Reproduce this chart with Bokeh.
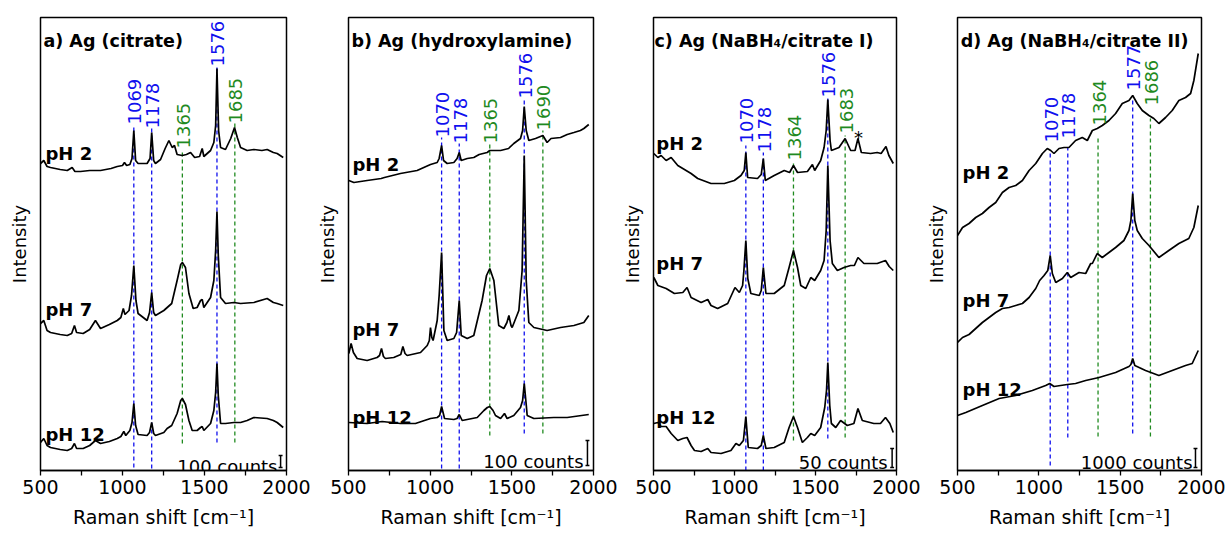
import math
from bokeh.plotting import figure
from bokeh.layouts import row
from bokeh.models import Range1d, FixedTicker
from bokeh.core.properties import value
from bokeh.embed import file_html
from bokeh.resources import INLINE

FONT = "DejaVu Sans"
BLUE = "#1010ee"
GREEN = "#1f8a1f"

# ---------------- data (Raman shift in cm^-1, intensity in plot units, stacked as drawn) --------
# panel a) Ag (citrate)
a_ph2_x = [500,520,540,561,620,663,693,710,744,800,866,930,968,1000,1012,1025,1045,1058,1069,1080,1095,1150,1168,1178,1190,1201,1232,1260,1283,1303,1317,1333,1364,1390,1415,1440,1470,1486,1496,1537,1557,1568,1576,1586,1598,1628,1660,1683,1700,1720,1760,1801,1850,1882,1920,1943,1980]
a_ph2_y = [307,310,304,303,301,300,303,299,299,300,300,302,304,305,308,305,306,312,340,310,307,307,312,338,310,307,311,322,330,323,325,316,315,316,318,313,314,322,314,320,328,345,402,340,323,321,332,343,333,323,320,321,320,321,318,317,313]
a_ph7_x = [500,520,540,561,620,663,690,707,720,760,800,835,866,920,968,990,1005,1015,1040,1055,1069,1082,1095,1150,1165,1178,1190,1201,1252,1300,1333,1355,1365,1384,1405,1431,1455,1476,1486,1496,1537,1557,1568,1576,1584,1598,1628,1679,1720,1801,1882,1920,1943,1980]
a_ph7_y = [147,150,140,138,136,135,137,145,138,137,141,150,142,146,150,153,162,156,160,175,205,170,157,150,158,178,158,155,160,167,190,206,208,203,177,162,163,170,171,163,173,190,220,259,215,173,167,168,167,168,172,168,167,165]
a_ph12_x = [500,520,540,561,620,663,690,707,720,760,800,835,866,920,968,990,1008,1020,1045,1058,1069,1080,1095,1150,1165,1178,1190,1201,1252,1272,1300,1333,1355,1365,1384,1405,1425,1455,1476,1486,1496,1537,1557,1568,1576,1584,1598,1628,1679,1720,1760,1801,1882,1920,1943,1980]
a_ph12_y = [28,32,25,23,21,20,22,27,22,22,25,30,27,29,32,34,39,35,40,48,67,45,36,35,38,48,37,35,38,42,45,57,70,72,66,50,40,40,43,44,40,47,60,78,107,75,47,47,48,48,50,53,52,50,48,43]

# panel b) Ag (hydroxylamine)
b_ph2_x = [502,533,614,700,720,818,920,1002,1043,1055,1070,1082,1104,1145,1165,1178,1190,1227,1267,1300,1349,1365,1431,1480,1512,1553,1566,1576,1588,1604,1645,1690,1716,1740,1798,1839,1880,1920,1941,1971]
b_ph2_y = [290,288,290,292,293,297,300,306,308,312,325,310,307,308,312,318,310,312,313,316,318,320,320,322,327,332,340,364,340,330,332,335,328,332,333,336,338,340,342,346]
b_ph7_x = [502,516,530,553,614,675,690,702,714,726,777,820,833,846,859,941,982,995,1002,1010,1018,1043,1055,1070,1084,1104,1145,1162,1178,1190,1227,1267,1318,1345,1365,1390,1420,1451,1470,1482,1495,1502,1543,1563,1576,1588,1604,1635,1716,1798,1880,1941,1971]
b_ph7_y = [117,127,118,112,110,113,115,122,114,112,113,116,124,117,115,118,125,130,143,133,130,150,175,218,140,130,132,138,170,135,132,135,170,195,202,190,145,142,148,155,145,143,160,200,315,190,148,143,140,143,145,148,155]
b_ph12_x = [502,614,706,818,910,1002,1043,1058,1070,1088,1145,1165,1178,1196,1288,1329,1350,1365,1385,1400,1431,1455,1471,1512,1553,1566,1576,1588,1594,1635,1757,1839,1971]
b_ph12_y = [48,47,49,47,47,52,53,55,64,52,51,52,56,50,53,60,63,64,60,55,52,57,52,55,63,70,87,66,55,52,53,53,56]

# panel c) Ag (NaBH4/citrate I)
c_ph2_x = [502,527,547,578,609,650,732,773,855,937,999,1040,1060,1070,1081,1142,1165,1178,1190,1245,1307,1340,1364,1389,1450,1481,1495,1532,1553,1566,1576,1590,1598,1645,1683,1717,1744,1762,1783,1840,1881,1905,1935,1953,1980]
c_ph2_y = [317,313,315,310,313,305,297,292,287,287,290,295,300,318,293,292,296,312,290,295,300,298,305,298,299,306,300,310,323,340,371,330,320,323,332,320,320,332,318,317,318,317,324,315,307]
c_ph7_x = [502,527,578,629,681,707,732,794,835,855,896,958,1003,1030,1050,1058,1070,1082,1101,1153,1165,1178,1194,1245,1307,1337,1364,1389,1409,1440,1471,1495,1532,1553,1566,1576,1590,1604,1635,1676,1717,1740,1762,1799,1881,1932,1955,1980]
c_ph7_y = [193,185,182,177,178,183,173,168,171,165,162,167,183,178,185,200,230,192,177,175,180,203,177,177,185,203,220,203,185,182,193,190,200,210,240,305,230,207,200,203,205,205,213,207,207,210,204,200]
c_ph12_x = [502,527,547,578,609,650,681,707,732,753,794,835,855,917,978,1009,1030,1055,1070,1085,1142,1165,1178,1194,1245,1307,1337,1364,1389,1419,1450,1471,1495,1532,1557,1568,1576,1588,1598,1625,1655,1696,1737,1762,1789,1860,1901,1932,1959,1980]
c_ph12_y = [47,48,44,44,37,30,32,33,25,20,19,22,18,17,20,27,25,30,54,23,22,25,35,22,23,28,43,54,43,28,33,37,35,43,63,80,108,65,47,43,50,45,47,62,50,47,47,53,47,38]

# panel d) Ag (NaBH4/citrate II)
d_ph2_x = [500,531,571,612,653,694,735,776,817,858,899,940,981,1022,1052,1073,1093,1124,1155,1185,1226,1267,1298,1329,1359,1390,1431,1472,1513,1554,1577,1605,1636,1677,1707,1738,1779,1820,1861,1902,1933,1953,1980]
d_ph2_y = [235,243,247,253,257,263,268,278,283,285,290,300,307,317,322,320,317,322,323,323,330,333,330,340,342,345,350,357,367,370,375,367,360,355,352,347,353,360,370,373,377,390,417]
d_ph7_x = [500,531,571,612,653,694,735,776,817,858,899,940,981,1005,1032,1055,1070,1083,1104,1145,1175,1196,1247,1288,1319,1329,1359,1390,1431,1472,1523,1554,1566,1577,1590,1605,1636,1677,1738,1799,1861,1922,1953,1980]
d_ph7_y = [128,133,136,142,148,153,158,162,163,165,167,173,182,190,195,200,215,197,188,192,198,193,198,197,207,207,217,213,218,223,230,240,250,277,250,240,232,225,213,220,227,232,243,265]
d_ph12_x = [500,551,653,756,858,960,1042,1067,1093,1175,1226,1288,1370,1472,1554,1566,1577,1590,1656,1738,1820,1902,1943,1980]
d_ph12_y = [55,58,65,72,75,80,85,87,84,86,87,90,93,98,104,106,112,105,100,95,100,105,107,120]

# peak markers
a_peaks = [1069, 1178, 1365, 1576, 1685]
b_peaks = [1070, 1178, 1365, 1576, 1690]
c_peaks = [1070, 1178, 1364, 1576, 1683]
d_peaks = [1070, 1178, 1364, 1577, 1686]
peak_kind = ["blue", "blue", "green", "blue", "green"]

ph_names = ["pH 2", "pH 7", "pH 12"]
titles = ["a) Ag (citrate)", "b) Ag (hydroxylamine)",
          "c) Ag (NaBH\u2084/citrate I)", "d) Ag (NaBH\u2084/citrate II)"]
scale_texts = ["100 counts", "100 counts", "50 counts", "1000 counts"]

x_major = [500, 1000, 1500, 2000]
x_minor = [750, 1250, 1750]

# ---------------- layout / placement (not data) ----------------
line_bottom = [[3, 2, 27, 28, 28], [2, 2, 35, 37, 37], [0, 0, 30, 32, 33], [5, 33, 34, 37, 34]]
line_top = [[345, 342, 321, 403, 347], [333, 327, 327, 370, 340], [325, 318, 308, 373, 335], [317, 323, 335, 370, 352]]
label_y = [[346, 342, 322, 404, 347], [333, 327, 327, 372, 340], [327, 318, 310, 373, 337], [328, 332, 345, 380, 365]]
ph_x = [530, 524, 517, 531]
ph_y = [[317, 161, 36], [306, 141, 53], [327, 207, 53], [298, 170, 81]]
title_x = [518, 518, 506, 520]
title_y = [430, 430, 430, 430]
scale_text_x = [1945, 1939, 1945, 1945]
scale_text_y = [4, 9, 8, 8]
scale_bar_x = [1964, 1963, 1973, 1963]
scale_bar_y0 = [3, 5, 3, 3]
scale_bar_y1 = [15, 30, 22, 22]

widths = [311, 307, 303, 304]
border_left = [40, 37, 34, 36]
border_right = [25, 25, 25, 24]

spectra = [
    [(a_ph2_x, a_ph2_y), (a_ph7_x, a_ph7_y), (a_ph12_x, a_ph12_y)],
    [(b_ph2_x, b_ph2_y), (b_ph7_x, b_ph7_y), (b_ph12_x, b_ph12_y)],
    [(c_ph2_x, c_ph2_y), (c_ph7_x, c_ph7_y), (c_ph12_x, c_ph12_y)],
    [(d_ph2_x, d_ph2_y), (d_ph7_x, d_ph7_y), (d_ph12_x, d_ph12_y)],
]
peaks = [a_peaks, b_peaks, c_peaks, d_peaks]
color_of = {"blue": BLUE, "green": GREEN}


def make_panel(i):
    p = figure(width=widths[i], height=532,
               x_range=Range1d(500, 2000), y_range=Range1d(0, 453),
               output_backend="svg", toolbar_location=None,
               min_border_left=border_left[i], min_border_right=border_right[i],
               min_border_top=17, min_border_bottom=62)
    p.grid.visible = False
    p.background_fill_color = "white"
    p.border_fill_color = "white"
    p.outline_line_color = "black"
    p.outline_line_width = 1.5
    p.outline_line_alpha = 1.0

    xa = p.xaxis[0]
    xa.ticker = FixedTicker(ticks=x_major, minor_ticks=x_minor)
    xa.major_tick_out = 5
    xa.major_tick_in = 0
    xa.minor_tick_out = 5
    xa.minor_tick_in = 0
    xa.major_tick_line_width = 1.3
    xa.minor_tick_line_width = 1.3
    xa.axis_line_width = 1.5
    xa.major_label_standoff = 4
    xa.major_label_text_font = FONT
    xa.major_label_text_font_size = "19px"
    xa.major_label_text_color = "black"
    xa.axis_label = "Raman shift [cm\u207b\u00b9]"
    xa.axis_label_text_font = FONT
    xa.axis_label_text_font_size = "19px"
    xa.axis_label_text_font_style = "normal"
    xa.axis_label_text_color = "black"
    xa.axis_label_standoff = 9

    ya = p.yaxis[0]
    ya.ticker = FixedTicker(ticks=[])
    ya.major_tick_out = 0
    ya.major_tick_in = 0
    ya.minor_tick_out = 0
    ya.minor_tick_in = 0
    ya.axis_line_color = None
    ya.major_label_standoff = 0
    ya.axis_label = "Intensity"
    ya.axis_label_text_font = FONT
    ya.axis_label_text_font_size = "18px"
    ya.axis_label_text_font_style = "normal"
    ya.axis_label_text_color = "black"
    ya.axis_label_standoff = 11

    cols = [color_of[k] for k in peak_kind]
    # dashed guide lines
    p.segment(x0=peaks[i], y0=line_bottom[i], x1=peaks[i], y1=line_top[i],
              line_color=cols, line_width=1.3, line_dash="4 3")
    # spectra
    for sx, sy in spectra[i]:
        p.line(sx, sy, line_color="black", line_width=1.7)
    # peak labels
    p.text(x=peaks[i], y=label_y[i], text=[str(v) for v in peaks[i]],
           angle=math.pi / 2, text_color=cols, text_font=value(FONT),
           text_font_size="18px", text_align="left", text_baseline="middle",
           x_offset=1)
    # pH labels
    p.text(x=[ph_x[i]] * 3, y=ph_y[i], text=ph_names, text_color="black",
           text_font=value(FONT), text_font_size="18px", text_font_style="bold",
           text_align="left", text_baseline="alphabetic")
    # title
    p.text(x=[title_x[i]], y=[title_y[i]], text=[titles[i]], text_color="black",
           text_font=value(FONT), text_font_size="17.5px", text_font_style="bold",
           text_align="left", text_baseline="alphabetic")
    # scale bar
    p.text(x=[scale_text_x[i]], y=[scale_text_y[i]], text=[scale_texts[i]],
           text_color="black", text_font=value(FONT), text_font_size="18px",
           text_align="right", text_baseline="alphabetic")
    bx = scale_bar_x[i]
    p.segment(x0=[bx, bx - 12, bx - 12], y0=[scale_bar_y0[i], scale_bar_y0[i], scale_bar_y1[i]],
              x1=[bx, bx + 12, bx + 12], y1=[scale_bar_y1[i], scale_bar_y0[i], scale_bar_y1[i]],
              line_color="black", line_width=1.5)
    if i == 2:
        p.text(x=[1766], y=[333], text=["*"], text_color="black", text_font=value(FONT),
               text_font_size="18px", text_align="center", text_baseline="alphabetic")
    return p


figs = [make_panel(i) for i in range(4)]
layout = row(*figs)
open("out.html", "w").write(file_html(layout, INLINE))
